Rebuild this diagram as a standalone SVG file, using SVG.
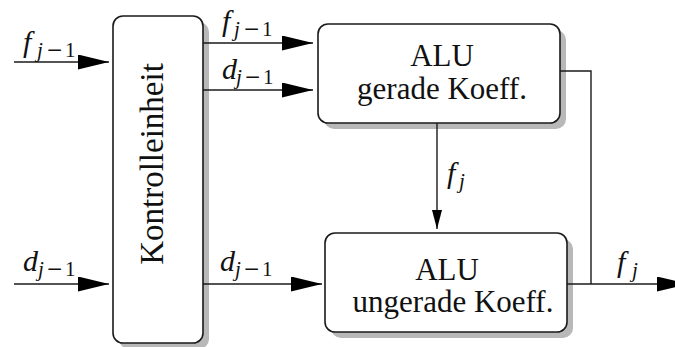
<svg xmlns="http://www.w3.org/2000/svg" width="675" height="347" viewBox="0 0 675 347">
  <style>
    .box { fill: #ffffff; stroke: #1a1a1a; stroke-width: 1.6; }
    .shadow { fill: #b8b8b8; stroke: none; }
    .wire { fill: none; stroke: #1a1a1a; stroke-width: 1.4; }
    text { font-family: "Liberation Serif", "Times New Roman", "DejaVu Serif", serif; fill: #111; }
    .lbl { font-size: 31px; }
    .m { font-size: 30px; font-style: italic; }
    .s { font-size: 21px; }
    .up { font-style: normal; }
    .mi { font-size: 27px; font-style: normal; }
  </style>
  <defs>
    <marker id="big" markerUnits="userSpaceOnUse" markerWidth="31" markerHeight="15" refX="31" refY="7.5" orient="auto">
      <path d="M0,0 L31,7.5 L0,15 z" fill="#000"/>
    </marker>
    <marker id="small" markerUnits="userSpaceOnUse" markerWidth="19" markerHeight="10" refX="19" refY="5" orient="auto">
      <path d="M0,0 L19,5 L0,10 z" fill="#000"/>
    </marker>
  </defs>

  <g id="kontrolleinheit">
    <rect class="shadow" x="119" y="22" width="90" height="327" rx="10"/>
    <rect class="box" x="113" y="16" width="90" height="327" rx="10"/>
    <text font-family="Liberation Serif, serif" font-size="33" transform="translate(163,164) rotate(-90)" text-anchor="middle">Kontrolleinheit</text>
  </g>

  <g id="alu-gerade">
    <rect class="shadow" x="324" y="30" width="242" height="99" rx="10"/>
    <rect class="box" x="318" y="24" width="242" height="99" rx="10"/>
    <text class="lbl" x="442" y="66" text-anchor="middle">ALU</text>
    <text class="lbl" x="442" y="99" text-anchor="middle">gerade Koeff.</text>
  </g>

  <g id="alu-ungerade">
    <rect class="shadow" x="331" y="239" width="242" height="99" rx="10"/>
    <rect class="box" x="325" y="233" width="242" height="99" rx="10"/>
    <text class="lbl" x="447" y="280" text-anchor="middle">ALU</text>
    <text class="lbl" x="453" y="312" text-anchor="middle">ungerade Koeff.</text>
  </g>

  <g id="connectors">
    <path class="wire" d="M14,62 H109" marker-end="url(#big)"/>
    <path class="wire" d="M203,43 H313" marker-end="url(#big)"/>
    <path class="wire" d="M203,90 H313" marker-end="url(#big)"/>
    <path class="wire" d="M14,284 H109" marker-end="url(#big)"/>
    <path class="wire" d="M203,284 H322" marker-end="url(#big)"/>
    <path class="wire" d="M437,123 V229" marker-end="url(#small)"/>
    <path class="wire" d="M560,71 H591 V284"/>
    <path class="wire" d="M567,284 H688" marker-end="url(#big)"/>

    <!-- subscripted labels: main letter, italic j, wide minus, upright 1 -->
    <text class="m" x="23" y="52">f</text>
    <text class="m s" x="37" y="57">j</text>
    <text class="mi" x="47" y="59">−</text>
    <text class="s up" x="65" y="57">1</text>

    <text class="m" x="222" y="31">f</text>
    <text class="m s" x="234" y="36">j</text>
    <text class="mi" x="244" y="38">−</text>
    <text class="s up" x="262" y="36">1</text>

    <text class="m" x="222" y="79">d</text>
    <text class="m s" x="236" y="84">j</text>
    <text class="mi" x="245" y="86">−</text>
    <text class="s up" x="263" y="84">1</text>

    <text class="m" x="23" y="271">d</text>
    <text class="m s" x="38" y="276">j</text>
    <text class="mi" x="47" y="278">−</text>
    <text class="s up" x="65" y="276">1</text>

    <text class="m" x="220" y="271">d</text>
    <text class="m s" x="235" y="276">j</text>
    <text class="mi" x="244" y="278">−</text>
    <text class="s up" x="262" y="276">1</text>

    <text class="m" x="447" y="183">f</text>
    <text class="m s" x="459" y="188">j</text>

    <text class="m" x="617" y="272">f</text>
    <text class="m s" x="632" y="277">j</text>
  </g>
</svg>
